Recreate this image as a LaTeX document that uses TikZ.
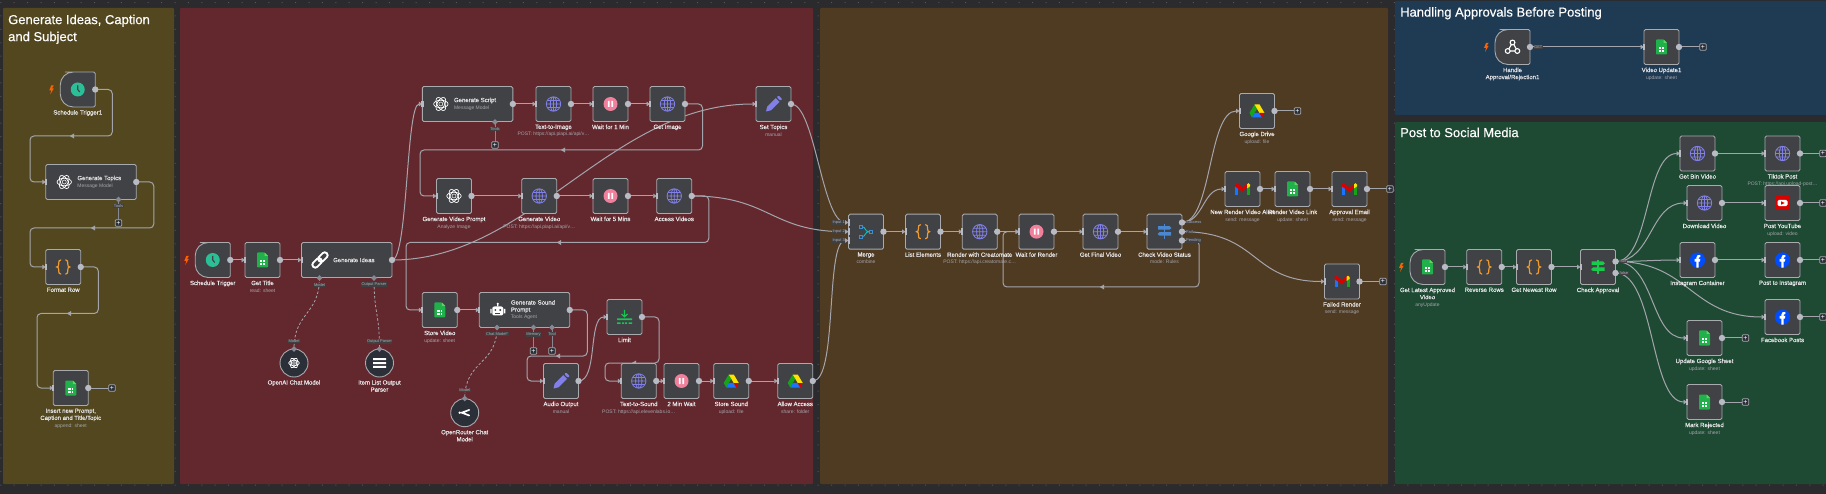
\documentclass[tikz,border=0pt]{standalone}
\usepackage{fontspec}
\setmainfont[FakeBold=0.35]{Liberation Sans}
\newfontfamily\subf{Liberation Sans}
\usetikzlibrary{arrows.meta,backgrounds,calc}
\definecolor{bgc}{HTML}{2B2B2D}
\definecolor{gridc}{HTML}{55555A}
\definecolor{olivec}{HTML}{53471F}
\definecolor{redc}{HTML}{62282E}
\definecolor{brownc}{HTML}{4F3A22}
\definecolor{bluec}{HTML}{1F3A53}
\definecolor{greenc}{HTML}{1E4A34}
\definecolor{nodec}{HTML}{414245}
\definecolor{edgec}{HTML}{A9AAAE}
\definecolor{conc}{HTML}{A4A5AC}
\definecolor{dotc}{HTML}{B9BBC4}
\definecolor{labc}{HTML}{E6E6E8}
\definecolor{subc}{HTML}{A5A5AB}
\definecolor{circc}{HTML}{2A2F38}
\definecolor{portc}{HTML}{868894}
\definecolor{purp}{HTML}{8180E8}
\definecolor{pinkc}{HTML}{F0809C}
\definecolor{gsheet}{HTML}{21B14A}
\definecolor{orgc}{HTML}{F39A2C}
\definecolor{clockc}{HTML}{2BBF97}
\tikzset{
  x=1pt,y=-1pt,
  nbox/.style={draw=edgec,fill=nodec,line width=.9pt,rounded corners=1.5pt,minimum width=35pt,minimum height=35pt,inner sep=0pt,outer sep=0pt},
  wbox/.style={nbox,minimum width=90.5pt},
  tbox/.style={minimum width=35pt,minimum height=35pt,inner sep=0pt,outer sep=0pt},
  nshape/.style={draw=edgec,fill=nodec,line width=.9pt},
  cbox/.style={draw=edgec,fill=circc,circle,line width=.9pt,minimum size=28pt,inner sep=0pt,outer sep=0pt},
  lab/.style={text=labc,align=center,inner sep=0pt,anchor=north,font=\fontsize{6}{7.1}\selectfont},
  wtxt/.style={text=labc,align=left,inner sep=0pt,anchor=west,font=\fontsize{6}{7.1}\selectfont},
  ttl/.style={text=white,align=left,inner sep=0pt,anchor=north west,font=\fontsize{13}{17}\selectfont},
  plab/.style={text=subc!90!white,fill=bgc!90!white,inner sep=.5pt,font=\subf\fontsize{4}{4.5}\selectfont},
  plusn/.style={draw=edgec,fill=circc,line width=.8pt,rounded corners=1pt,minimum size=6.6pt,inner sep=0pt,outer sep=0pt,text=white,font=\subf\fontsize{7}{7}\selectfont},
  conn/.style={draw=conc,line width=1pt,rounded corners=4pt,-{Triangle[length=3.5pt,width=4.5pt]}},
  plain/.style={draw=conc,line width=1pt,rounded corners=4pt},
  aiconn/.style={draw=conc,line width=.8pt,dashed,dash pattern=on 2.5pt off 2pt},
  toolconn/.style={draw=portc,line width=.9pt},
}
% icons
\newcommand\icglobe{\draw[purp,line width=.8pt] (0,0) circle (7.2) (0,0) ellipse [x radius=3.2,y radius=7.2] (-7.2,0)--(7.2,0) (-6.3,-3.5)--(6.3,-3.5) (-6.3,3.5)--(6.3,3.5) (0,-7.2)--(0,7.2);}
\newcommand\icpause{\fill[pinkc] (0,0) circle (7); \fill[white] (-2.7,-3) rectangle (-.8,3) (.8,-3) rectangle (2.7,3);}
\newcommand\icsheet{\fill[gsheet,rounded corners=.8pt] (-5.5,-7.5)--(2,-7.5)--(5.5,-4)--(5.5,7.5)--(-5.5,7.5)--cycle; \fill[green!70!black!60!white] (2,-7.5)--(5.5,-4)--(2,-4)--cycle; \fill[white] (-2.6,.2) rectangle (2.6,4.6); \draw[gsheet,line width=.3pt] (0,.2)--(0,4.6) (-2.6,2.4)--(2.6,2.4);}
\newcommand\iccode{\draw[orgc,line width=1.2pt,line cap=round] (-2.5,-7) .. controls (-4.6,-7) and (-4.5,-5.5) .. (-4.5,-3.2) .. controls (-4.5,-1.2) and (-5,0) .. (-6.5,0) .. controls (-5,0) and (-4.5,1.2) .. (-4.5,3.2) .. controls (-4.5,5.5) and (-4.6,7) .. (-2.5,7) (2.5,-7) .. controls (4.6,-7) and (4.5,-5.5) .. (4.5,-3.2) .. controls (4.5,-1.2) and (5,0) .. (6.5,0) .. controls (5,0) and (4.5,1.2) .. (4.5,3.2) .. controls (4.5,5.5) and (4.6,7) .. (2.5,7);}
\newcommand\icpencil{\fill[purp] (-7.5,7.5)--(-6.3,2.6)--(2.2,-5.9)--(6,-2.1)--(-2.5,6.3)--cycle; \fill[purp,rounded corners=1pt] (3.2,-6.9)--(5,-8.7)--(8.8,-4.9)--(7,-3.1)--cycle;}
\newcommand\iclink{\draw[white,line width=1.9pt,rounded corners=2.6pt,rotate=45] (-9.5,-2.9) rectangle (1.3,2.9) (-1.3,-2.9) rectangle (9.5,2.9);}
\newcommand\icopenai{\draw[white,line width=.7pt] (0,0) ellipse [x radius=7.2,y radius=3.7]; \draw[white,line width=.7pt,rotate=60] (0,0) ellipse [x radius=7.2,y radius=3.7]; \draw[white,line width=.7pt,rotate=120] (0,0) ellipse [x radius=7.2,y radius=3.7]; \draw[white,line width=.5pt] (0,0) circle (2);}
\newcommand\icdrive{\fill[green!60!black!90!white] (-2.5,-6.5)--(0,-2.2)--(-5,6.5)--(-7.5,2)--cycle; \fill[yellow!85!orange] (-2.5,-6.5)--(2.5,-6.5)--(7.5,2)--(2.5,2)--cycle; \fill[blue!60!cyan!90!white] (-2.5,2)--(2.5,2)--(5,6.5)--(-5,6.5)--cycle; \fill[red!85!black] (2.5,2)--(7.5,2)--(5,6.5)--cycle;}
\newcommand\icgmail{\fill[blue!60!cyan!90!white] (-7.5,-3) rectangle (-4.5,6); \fill[green!60!black!90!white] (4.5,-3) rectangle (7.5,6); \fill[red!85!black] (-7.5,-5)--(-5,-5.5)--(0,-1.5)--(5,-5.5)--(5.5,-2.5)--(0,2.8)--(-7.5,-2.5)--cycle; \fill[yellow!85!orange] (4.5,-4.7)--(6,-5.8)--(7.5,-4.5)--(7.5,-2.7)--(4.5,-.5)--cycle;}
\newcommand\icfb{\fill[blue!70!cyan] (0,0) circle (7.6); \fill[white] (-1.1,7.6)--(-1.1,1.6)--(-3,1.6)--(-3,-1)--(-1.1,-1)--(-1.1,-2.6) .. controls (-1.1,-4.8) and (.6,-5.4) .. (2.8,-5)--(2.8,-2.9)--(1.9,-2.9) .. controls (1.2,-2.9) and (1.2,-2.4) .. (1.2,-1.8)--(1.2,-1)--(2.8,-1)--(2.4,1.6)--(1.2,1.6)--(1.2,7.6)--cycle;}
\newcommand\icyt{\fill[red!85!black] (-7,-7) rectangle (7,7); \fill[white,rounded corners=1.5pt] (-5,-3.2) rectangle (5,3.2); \fill[red!85!black] (-1.3,-1.7)--(2,0)--(-1.3,1.7)--cycle;}
\newcommand\icmerge{\draw[teal!60!cyan!90!white,line width=.9pt] (-4,-5) .. controls (0,-5) and (-1.5,0) .. (3,0) (-4,5) .. controls (0,5) and (-1.5,0) .. (3,0); \draw[cyan!60!blue!80!white,line width=.9pt] (-7,-6.7) rectangle (-3.6,-3.3) (-7,3.3) rectangle (-3.6,6.7) (3.2,-1.7) rectangle (6.8,1.7);}
\newcommand\icswitch[1]{\fill[#1] (-.7,-7.2) rectangle (.7,7.2); \fill[#1] (-6.5,-5.5)--(5,-5.5)--(7,-3.7)--(5,-2)--(-6.5,-2)--cycle; \fill[#1] (6.5,.5)--(-5,.5)--(-7,2.3)--(-5,4)--(6.5,4)--cycle;}
\newcommand\iclimit{\fill[green!50!teal!90!white] (-7.5,1.5) rectangle (7.5,3.2) (-7.5,5.3) rectangle (-4,7) (-2.5,5.3) rectangle (-.5,7) (.5,5.3) rectangle (2.5,7) (4,5.3) rectangle (7.5,7); \draw[green!50!teal!90!white,line width=1.2pt] (0,-7)--(0,-.5) (-3,-3)--(0,-.2)--(3,-3);}
\newcommand\icrobot{\fill[white,rounded corners=2pt] (-5.5,-3.5) rectangle (5.5,5.5); \fill[white] (-7.5,-1) rectangle (-6.2,3.5) (6.2,-1) rectangle (7.5,3.5) (-.6,-6) rectangle (.6,-3.5); \fill[white] (0,-6.3) circle (1.1); \fill[nodec] (-2.4,0) circle (1.1) (2.4,0) circle (1.1); \fill[nodec] (-2.5,3) rectangle (2.5,3.8);}
\newcommand\ichook{\draw[white,line width=1.1pt] (0,-4.5) circle (2.4) (-4.8,4) circle (2.4) (4.8,4) circle (2.4); \draw[white,line width=1.1pt] (-1,-2.5)--(-3.8,2) (1.2,-2.6)--(3.8,2) (-2.4,4)--(2.4,4);}
\newcommand\iclist{\fill[white] (-6.5,-4.8) rectangle (6.5,-2.8) (-6.5,-1) rectangle (6.5,1) (-6.5,2.8) rectangle (6.5,4.8);}
\newcommand\icrouter{\draw[white,line width=1.7pt,line cap=round] (4.5,-2.8) .. controls (1.5,-2.8) and (.5,0) .. (-3,0) .. controls (.5,0) and (1.5,2.8) .. (4.5,2.8); \fill[white] (-5,0) circle (1.3);}
\newcommand\icclock{\fill[clockc] (0,0) circle (7); \draw[nodec,line width=1.1pt] (0,-4)--(0,0)--(2,2.5);}
\newcommand\sublab[1]{{\subf\fontsize{5}{7.4}\selectfont\color{subc}#1}}
% node macros
\newcommand\handle[1]{\fill[dotc] ($(#1)+(-1,-3.4)$) rectangle ($(#1)+(1.2,3.4)$);}
\newcommand\wfbare[5]{\node[nbox] (#1) at (#2,#3) {}; \handle{#1.west}
  \begin{scope}[shift={(#2,#3)}]#4\end{scope}
  \node[lab] (#1-l) at ($(#1.south)+(0,3)$) {#5};}
\newcommand\wfnode[5]{\wfbare{#1}{#2}{#3}{#4}{#5}\fill[dotc] (#1.east) circle (3.2);}
\newcommand\wide[6]{\node[wbox] (#1) at (#2,#3) {}; \handle{#1.west}
  \fill[dotc] (#1.east) circle (3.2);
  \begin{scope}[shift={($(#1.west)+(18.5,0)$)}]#4\end{scope}
  \node[wtxt] (#1-t) at ($(#1.west)+(31.5,#6)$) {#5};}
\newcommand\trig[5]{\node[tbox] (#1) at (#2,#3) {};
  \draw[nshape] (#1.north) [rounded corners=1.5pt] -- (#1.north east) -- (#1.south east) -- (#1.south) [rounded corners=13pt] -- (#1.south west) -- (#1.north west) -- cycle;
  \fill[dotc] (#1.east) circle (3.2);
  \fill[orange!75!red] ($(#1.west)+(-9,-4)$) -- ($(#1.west)+(-11,1)$) -- ($(#1.west)+(-9,1)$) -- ($(#1.west)+(-10,5)$) -- ($(#1.west)+(-6.5,-1)$) -- ($(#1.west)+(-8.4,-1)$) -- ($(#1.west)+(-6.5,-4)$) -- cycle;
  \begin{scope}[shift={(#2,#3)}]#4\end{scope}
  \node[lab] (#1-l) at ($(#1.south)+(0,3)$) {#5};}
\newcommand\aicirc[5]{\node[cbox] (#1) at (#2,#3) {};
  \begin{scope}[shift={(#2,#3)}]#4\end{scope}
  \node[lab] (#1-l) at ($(#1.south)+(0,3)$) {#5};}
\newcommand\plusb[3]{\node[plusn] (#1) at (#2,#3) {+};}
\newcommand\backmark[2]{\fill[conc] (#1+2.2,#2-2.6)--(#1-2.2,#2)--(#1+2.2,#2+2.6)--cycle;}
\newcommand\portlab[4]{\fill[portc] (#2,#3-2.8)--(#2+2.8,#3)--(#2,#3+2.8)--(#2-2.8,#3)--cycle;
  \coordinate (#1) at (#2,#3);
  \node[plab] (#1-l) at (#2,#3+6.8) {#4};}
\newcommand\portonly[3]{\fill[portc] (#2,#3-2.8)--(#2+2.8,#3)--(#2,#3+2.8)--(#2-2.8,#3)--cycle;
  \coordinate (#1) at (#2,#3);}
\begin{document}
\begin{tikzpicture}
\path[use as bounding box] (0,0) rectangle (1826,494);
\begin{scope}[on background layer]
  \fill[bgc] (0,0) rectangle (1826,494);
  \fill[gridc] \foreach \i in {0,...,136}{\foreach \j in {0,...,37}{ ({.8+13.4*\i-.5},{485-13.4*\j-.5}) rectangle ++(1,1) }};
  \fill[olivec,rounded corners=1pt] (3,8) rectangle (174,484);
  \fill[redc,rounded corners=1pt] (180,8) rectangle (813,484);
  \fill[brownc,rounded corners=1pt] (820,8) rectangle (1388,484);
  \fill[bluec,rounded corners=1pt] (1395,1) rectangle (1826,115);
  \fill[greenc,rounded corners=1pt] (1395,122) rectangle (1826,484);
\end{scope}
\node[ttl] (t1) at (8,14.5) {Generate Ideas, Caption\\and Subject};
\node[ttl] (t4) at (1400,7) {Handling Approvals Before Posting};
\node[ttl] (t5) at (1400,127.5) {Post to Social Media};

% group 1
\trig{st1}{77.75}{89.5}{\icclock}{Schedule Trigger1}
\wide{gt}{91}{182}{\icopenai}{Generate Topics\\\sublab{Message Model}}{0}
\wfnode{fr}{63.25}{267}{\iccode}{Format Row}
\wfnode{ins}{70.75}{388}{\icsheet}{Insert new Prompt,\\Caption and Title/Topic\\\sublab{append: sheet}}
\plusb{insp}{112}{388}
\plusb{gtp}{118.5}{223}
\portlab{gtport}{118.5}{199.5}{Tools}

% group 2
\trig{st}{212.75}{260}{\icclock}{Schedule Trigger}
\wfnode{gettitle}{262.5}{260}{\icsheet}{Get Title\\\sublab{read: sheet}}
\wide{gi}{346.75}{260}{\iclink}{Generate Ideas}{0}
\portlab{gim}{319.5}{278}{Model}
\portlab{gip}{374}{278}{Output Parser}
\aicirc{oai}{294}{363}{\begin{scope}[scale=.75]\icopenai\end{scope}}{OpenAI Chat Model}
\portonly{oaip}{294}{349}{}
\node[plab] (oaip-t) at (294,341.5) {Model};
\aicirc{ilp}{379.5}{363}{\iclist}{Item List Output\\Parser}
\portonly{ilpp}{379.5}{349}{}
\node[plab] (ilpp-t) at (379.5,341.5) {Output Parser};
\wide{gs}{467.6}{104}{\icopenai}{Generate Script\\\sublab{Message Model}}{0}
\portlab{gsport}{495}{122}{Tools}
\plusb{gsp}{495}{145}
\wfnode{tti}{553.5}{104}{\icglobe}{Text-to-Image\\\sublab{POST: https://api.piapi.ai/api/v\dots}}
\wfnode{w1}{610.5}{104}{\icpause}{Wait for 1 Min}
\wfnode{gim2}{667.5}{104}{\icglobe}{Get Image}
\wfnode{setp}{773.5}{104}{\icpencil}{Set Topics\\\sublab{manual}}
\wfnode{gvp}{454}{196}{\icopenai}{Generate Video Prompt\\\sublab{Analyze Image}}
\wfnode{gv}{539.25}{196}{\icglobe}{Generate Video\\\sublab{POST: https://api.piapi.ai/api/v\dots}}
\wfnode{w5}{610.5}{196}{\icpause}{Wait for 5 Mins}
\wfnode{av}{674.25}{196}{\icglobe}{Access Videos}
\wfnode{sv}{439.75}{310}{\icsheet}{Store Video\\\sublab{update: sheet}}
\wide{gsnd}{524.5}{310}{\icrobot}{Generate Sound\\Prompt\\\sublab{Tools Agent}}{0}
\portlab{gsc}{497}{327.5}{Chat Model*}
\portlab{gsm}{533.5}{327.5}{Memory}
\portlab{gst}{552}{327.5}{Tool}
\plusb{gsmp}{533.5}{351}
\plusb{gstp}{552}{351}
\aicirc{orc}{464.7}{412.7}{\icrouter}{OpenRouter Chat\\Model}
\portonly{orcp}{464.7}{398.5}{}
\node[plab] (orcp-t) at (464.7,390.5) {Model};
\wfnode{lim}{624.5}{317}{\iclimit}{Limit}
\wfnode{ao}{561}{381}{\icpencil}{Audio Output\\\sublab{manual}}
\wfnode{tts}{638.75}{381}{\icglobe}{Text-to-Sound\\\sublab{POST: https://api.elevenlabs.io\dots}}
\wfnode{w2}{681.5}{381}{\icpause}{2 Min Wait}
\wfnode{ss}{731.25}{381}{\icdrive}{Store Sound\\\sublab{upload: file}}
\wfnode{aa}{795.25}{381}{\icdrive}{Allow Access\\\sublab{share: folder}}

% group 3
\wfnode{mg}{866}{231.7}{\icmerge}{Merge\\\sublab{combine}}
\coordinate (mg1) at ($(mg.west)+(0,-9.2)$);
\coordinate (mg2) at (mg.west);
\coordinate (mg3) at ($(mg.west)+(0,8.8)$);
\handle{mg1} \handle{mg3}
\node[plab,anchor=east] (mgl1) at ($(mg1)+(-3,0)$) {Input 1};
\node[plab,anchor=east] (mgl2) at ($(mg2)+(-3,0)$) {Input 2};
\node[plab,anchor=east] (mgl3) at ($(mg3)+(-3,0)$) {Input 3};
\wfnode{le}{923}{231.7}{\iccode}{List Elements}
\wfnode{rc}{979.75}{231.7}{\icglobe}{Render with Creatomate\\\sublab{POST: https://api.creatomate.c\dots}}
\wfnode{wr}{1036.5}{231.7}{\icpause}{Wait for Render}
\wfnode{gfv}{1100.5}{231.7}{\icglobe}{Get Final Video}
\wfnode{cvs}{1164.5}{231.7}{\icswitch{cyan!50!blue!75!white}}{Check Video Status\\\sublab{mode: Rules}}
\coordinate (cvs1) at ($(cvs.east)+(0,-9.2)$);
\coordinate (cvs2) at (cvs.east);
\coordinate (cvs3) at ($(cvs.east)+(0,8.8)$);
\fill[dotc] (cvs1) circle (3.2) (cvs3) circle (3.2);
\node[plab,anchor=west] (cvl1) at ($(cvs1)+(3.5,0)$) {Success};
\node[plab,anchor=west] (cvl2) at ($(cvs2)+(3.5,0)$) {Fail};
\node[plab,anchor=west] (cvl3) at ($(cvs3)+(3.5,0)$) {Pending};
\wfnode{gd}{1257}{111}{\icdrive}{Google Drive\\\sublab{upload: file}}
\plusb{gdp}{1297.5}{111}
\wfnode{nrv}{1242.5}{189}{\icgmail}{New Render Video Alert\\\sublab{send: message}}
\wfnode{rvl}{1292.5}{189}{\icsheet}{Render Video Link\\\sublab{update: sheet}}
\wfnode{ae}{1349.5}{189}{\icgmail}{Approval Email\\\sublab{send: message}}
\plusb{aep}{1390}{189}
\wfnode{fre}{1342}{281.5}{\icgmail}{Failed Render\\\sublab{send: message}}
\plusb{frep}{1383}{281.5}

% group 4
\trig{hook}{1512.5}{47}{\ichook}{Handle\\Approval/Rejection1}
\node[plab,anchor=west] (hookl) at ($(hook.east)+(3.5,0)$) {GET};
\wfnode{vu}{1661.5}{47}{\icsheet}{Video Update1\\\sublab{update: sheet}}
\plusb{vup}{1703}{47}

% group 5
\trig{gla}{1427.5}{267}{\icsheet}{Get Latest Approved\\Video\\\sublab{anyUpdate}}
\wfnode{rr}{1484.25}{267}{\iccode}{Reverse Rows}
\wfnode{gnr}{1534}{267}{\iccode}{Get Newest Row}
\wfbare{ca}{1598}{267}{\icswitch{green!55!teal!90!white}}{Check Approval}
\coordinate (ca1) at ($(ca.east)+(0,-5.5)$);
\coordinate (ca2) at ($(ca.east)+(0,6)$);
\fill[dotc] (ca1) circle (3.2) (ca2) circle (3.2);
\node[plab,anchor=west] (cal1) at ($(ca1)+(3.5,0)$) {true};
\node[plab,anchor=west] (cal2) at ($(ca2)+(3.5,0)$) {false};
\wfnode{gbv}{1697.5}{153.5}{\icglobe}{Get Bin Video}
\wfnode{tp}{1782.5}{153.5}{\icglobe}{Tiktok Post\\\sublab{POST: https://api.upload-post\dots}}
\plusb{tpp}{1823}{153.5}
\wfnode{dv}{1704.5}{203}{\icglobe}{Download Video}
\wfnode{py}{1782.5}{203}{\icyt}{Post YouTube\\\sublab{upload: video}}
\plusb{pyp}{1823}{203}
\wfnode{ic}{1697.5}{260}{\icfb}{Instagram Container}
\wfnode{pi}{1782.5}{260}{\icfb}{Post to Instagram}
\plusb{pip}{1823}{260}
\wfnode{fp}{1782.5}{317}{\icfb}{Facebook Posts}
\plusb{fpp}{1823}{317}
\wfnode{ugs}{1704.5}{338}{\icsheet}{Update Google Sheet\\\sublab{update: sheet}}
\plusb{ugsp}{1745.5}{338}
\wfnode{mr}{1704.5}{402}{\icsheet}{Mark Rejected\\\sublab{update: sheet}}
\plusb{mrp}{1745.5}{402}

\begin{scope}[on background layer]
  % group 1
  \draw[conn] (st1.east) -- ++(17,0) -- ++(0,46.5) -- (30,136) -- (30,182) -- (gt.west);
  \draw[conn] (gt.east) -- ++(17.5,0) -- ++(0,46) -- (30,228) -- (30,267) -- (fr.west);
  \draw[conn] (fr.east) -- ++(17.5,0) -- ++(0,46.5) -- (37,313.5) -- (37,388) -- (ins.west);
  \draw[plain] (ins.east) -- (insp);
  \draw[toolconn] (gtport) -- (gtp);
  \backmark{72}{136}\backmark{93}{228}\backmark{69}{313.5}
  % group 2
  \draw[conn] (st.east) -- (gettitle.west);
  \draw[conn] (gettitle.east) -- (gi.west);
  \draw[aiconn] (gim) .. controls (319.5,315) and (294,312) .. (oaip);
  \draw[aiconn] (gip) .. controls (374,315) and (379.5,312) .. (ilpp);
  \draw[conn] (gi.east) .. controls (408,260) and (406,104) .. (gs.west);
  \draw[conn] (gi.east) .. controls (530,260) and (610,104) .. (setp.west);
  \draw[conn] (gs.east) -- (tti.west);
  \draw[conn] (tti.east) -- (w1.west);
  \draw[conn] (w1.east) -- (gim2.west);
  \draw[toolconn] (gsport) -- (gsp);
  \draw[conn] (gim2.east) -- ++(17.5,0) -- ++(0,46) -- (420,150) -- (420,196) -- (gvp.west);
  \draw[conn] (gvp.east) -- (gv.west);
  \draw[conn] (gv.east) -- (w5.west);
  \draw[conn] (w5.east) -- (av.west);
  \draw[conn] (av.east) -- ++(17,0) -- ++(0,46.5) -- (406,242.5) -- (406,310) -- (sv.west);
  \draw[conn] (sv.east) -- (gsnd.west);
  \draw[aiconn] (gsc) .. controls (497,365) and (465,360) .. (orcp);
  \draw[toolconn] (gsm) -- (gsmp);
  \draw[toolconn] (gst) -- (gstp);
  \draw[conn] (gsnd.east) -- ++(17.5,0) -- ++(0,46) -- (527,356) -- (527,381) -- (ao.west);
  \draw[conn] (ao.east) .. controls (598,381) and (588,317) .. (lim.west);
  \draw[conn] (lim.east) -- ++(17,0) -- ++(0,46) -- (605,363) -- (605,381) -- (tts.west);
  \draw[conn] (tts.east) -- (w2.west);
  \draw[conn] (w2.east) -- (ss.west);
  \draw[conn] (ss.east) -- (aa.west);
  \backmark{563}{150}\backmark{559}{242.5}\backmark{558}{356}\backmark{634}{363}
  % to merge
  \draw[conn] (setp.east) .. controls (815,104) and (822,222.5) .. (mg1);
  \draw[conn] (av.east) .. controls (770,196) and (770,231.7) .. (mg2);
  \draw[conn] (aa.east) .. controls (838,381) and (825,240.5) .. (mg3);
  % group 3
  \draw[conn] (mg.east) -- (le.west);
  \draw[conn] (le.east) -- (rc.west);
  \draw[conn] (rc.east) -- (wr.west);
  \draw[conn] (wr.east) -- (gfv.west);
  \draw[conn] (gfv.east) -- (cvs.west);
  \draw[conn] (cvs3) -- ++(17,0) -- ++(0,46.5) -- (1003,287) -- (1003,231.7) -- (wr.west);
  \draw[conn] (cvs1) .. controls (1212,222.5) and (1208,111) .. (gd.west);
  \draw[conn] (cvs1) .. controls (1203,222.5) and (1203,189) .. (nrv.west);
  \draw[conn] (cvs2) .. controls (1260,231.7) and (1250,281.5) .. (fre.west);
  \draw[conn] (nrv.east) -- (rvl.west);
  \draw[conn] (rvl.east) -- (ae.west);
  \draw[plain] (gd.east) -- (gdp);
  \draw[plain] (ae.east) -- (aep);
  \draw[plain] (fre.east) -- (frep);
  \backmark{1102}{287}
  % group 4
  \draw[conn] (hook.east) -- (vu.west);
  \draw[plain] (vu.east) -- (vup);
  % group 5
  \draw[conn] (gla.east) -- (rr.west);
  \draw[conn] (rr.east) -- (gnr.west);
  \draw[conn] (gnr.east) -- (ca.west);
  \draw[conn] (ca1) .. controls (1650,261.5) and (1645,153.5) .. (gbv.west);
  \draw[conn] (ca1) .. controls (1652,261.5) and (1650,203) .. (dv.west);
  \draw[conn] (ca1) .. controls (1640,261.5) and (1655,260) .. (ic.west);
  \draw[conn] (ca1) .. controls (1690,261.5) and (1690,317) .. (fp.west);
  \draw[conn] (ca1) .. controls (1655,261.5) and (1650,338) .. (ugs.west);
  \draw[conn] (ca2) .. controls (1655,273) and (1650,402) .. (mr.west);
  \draw[conn] (gbv.east) -- (tp.west);
  \draw[conn] (dv.east) -- (py.west);
  \draw[conn] (ic.east) -- (pi.west);
  \draw[plain] (tp.east) -- (tpp);
  \draw[plain] (py.east) -- (pyp);
  \draw[plain] (pi.east) -- (pip);
  \draw[plain] (fp.east) -- (fpp);
  \draw[plain] (ugs.east) -- (ugsp);
  \draw[plain] (mr.east) -- (mrp);
\end{scope}
\end{tikzpicture}
\end{document}
